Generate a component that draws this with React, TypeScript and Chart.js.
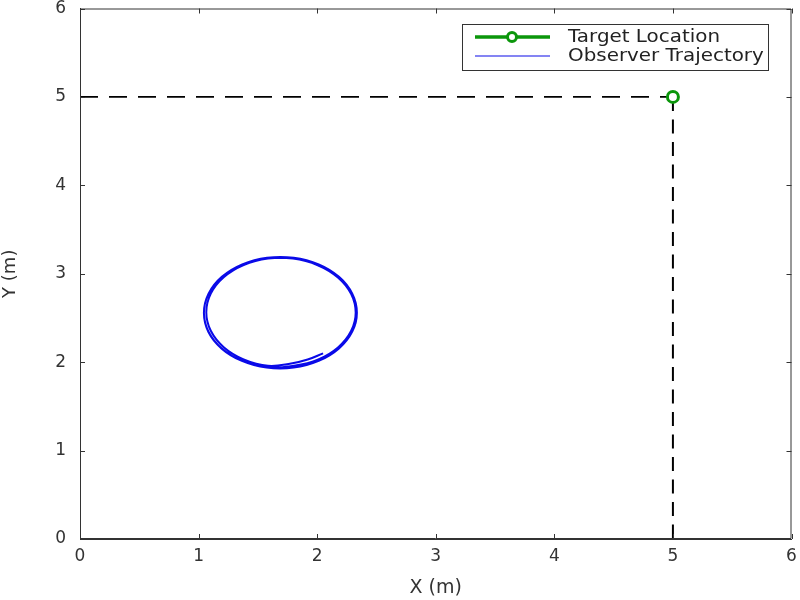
import React, { useEffect, useRef } from "react";
import { Chart, registerables } from "chart.js";

Chart.register(...registerables);

// ---- data ----
const tickValues = [0, 1, 2, 3, 4, 5, 6];
const targetX = [5];
const targetY = [5];
const hGuideX = [0, 5];
const hGuideY = [5, 5];
const vGuideX = [5, 5];
const vGuideY = [5, 0];
const trajX = [
  2.05, 1.92, 1.78,
  1.585, 1.38, 1.212, 1.103, 1.065, 1.103, 1.212, 1.38, 1.585, 1.805, 2.01, 2.178, 2.287, 2.325, 2.287, 2.178, 2.01, 1.805,
  1.578, 1.368, 1.196, 1.084, 1.045, 1.084, 1.196, 1.368, 1.578, 1.802, 2.013, 2.184, 2.296, 2.335, 2.296, 2.184, 2.013, 1.802,
  1.574, 1.365, 1.195, 1.083, 1.045, 1.083, 1.195, 1.365, 1.574, 1.796, 2.005, 2.175, 2.287, 2.325, 2.287, 2.175, 2.005, 1.796,
  1.6,
];
const trajY = [
  2.1, 2.03, 1.985,
  1.959, 2.032, 2.17, 2.355, 2.565, 2.775, 2.96, 3.098, 3.171, 3.171, 3.098, 2.96, 2.775, 2.565, 2.355, 2.17, 2.032, 1.959,
  1.939, 2.014, 2.155, 2.345, 2.56, 2.775, 2.965, 3.106, 3.181, 3.181, 3.106, 2.965, 2.775, 2.56, 2.345, 2.155, 2.014, 1.939,
  1.939, 2.014, 2.153, 2.341, 2.555, 2.769, 2.957, 3.096, 3.171, 3.171, 3.096, 2.957, 2.769, 2.555, 2.341, 2.153, 2.014, 1.939,
  1.935,
];
const legendLabels = ["Target Location", "Observer Trajectory"];

const GREEN = "#0b960b";
const BLUE = "#0a0ae8";
const AXIS = "#333333";
const FONT = "'DejaVu Sans', 'Liberation Sans', Arial, sans-serif";

const zip = (xs: number[], ys: number[]) => xs.map((x, i) => ({ x, y: ys[i] }));

const boxPlugin = {
  id: "matlabBox",
  afterDraw(chart: any) {
    const { ctx, chartArea } = chart;
    const { left, right, top, bottom } = chartArea;
    const xs = chart.scales.x;
    const ys = chart.scales.y;
    ctx.save();
    ctx.strokeStyle = AXIS;
    ctx.lineWidth = 1;
    ctx.beginPath();
    ctx.rect(left + 0.5, top + 0.5, right - left - 1, bottom - top - 1);
    ctx.stroke();
    const tl = 5;
    ctx.beginPath();
    tickValues.forEach((v) => {
      const px = Math.round(xs.getPixelForValue(v)) + 0.5;
      ctx.moveTo(px, bottom);
      ctx.lineTo(px, bottom - tl);
      ctx.moveTo(px, top);
      ctx.lineTo(px, top + tl);
      const py = Math.round(ys.getPixelForValue(v)) + 0.5;
      ctx.moveTo(left, py);
      ctx.lineTo(left + tl, py);
      ctx.moveTo(right, py);
      ctx.lineTo(right - tl, py);
    });
    ctx.stroke();

    // legend
    const bx = 462, by = 24, bw = 306, bh = 46;
    ctx.fillStyle = "#ffffff";
    ctx.fillRect(bx, by, bw, bh);
    ctx.strokeStyle = AXIS;
    ctx.lineWidth = 1;
    ctx.strokeRect(bx + 0.5, by + 0.5, bw, bh);
    const rows = [37, 56];
    // target entry
    ctx.strokeStyle = GREEN;
    ctx.lineWidth = 3.5;
    ctx.beginPath();
    ctx.moveTo(475, rows[0]);
    ctx.lineTo(550, rows[0]);
    ctx.stroke();
    ctx.fillStyle = "#ffffff";
    ctx.lineWidth = 3;
    ctx.beginPath();
    ctx.arc(512, rows[0], 4.5, 0, Math.PI * 2);
    ctx.fill();
    ctx.stroke();
    // trajectory entry
    ctx.strokeStyle = BLUE;
    ctx.lineWidth = 1.2;
    ctx.beginPath();
    ctx.moveTo(475, rows[1]);
    ctx.lineTo(550, rows[1]);
    ctx.stroke();
    // text
    ctx.font = `17px ${FONT}`;
    ctx.fillStyle = "#222222";
    ctx.textBaseline = "middle";
    ctx.textAlign = "left";
    const w0 = ctx.measureText(legendLabels[0]).width;
    const sx = 152 / w0;
    legendLabels.forEach((t, i) => {
      ctx.save();
      ctx.translate(568, rows[i]);
      ctx.scale(sx, 1);
      ctx.fillText(t, 0, 1);
      ctx.restore();
    });
    ctx.restore();
  },
};

export default function App() {
  const ref = useRef<HTMLCanvasElement>(null);
  useEffect(() => {
    document.body.style.margin = "0";
    const canvas = ref.current;
    if (!canvas) return;
    const chart = new Chart(canvas, {
      type: "scatter",
      data: {
        datasets: [
          {
            label: "Target Location",
            data: zip(targetX, targetY),
            showLine: false,
            pointRadius: 5.5,
            pointBorderWidth: 3,
            pointBorderColor: GREEN,
            pointBackgroundColor: "#ffffff",
            borderColor: GREEN,
          },
          {
            label: "guideH",
            data: zip(hGuideX, hGuideY),
            showLine: true,
            borderColor: "#000000",
            borderWidth: 1.7,
            borderDash: [18, 11],
            pointRadius: 0,
            tension: 0,
          },
          {
            label: "guideV",
            data: zip(vGuideX, vGuideY),
            showLine: true,
            borderColor: "#000000",
            borderWidth: 2,
            borderDash: [14, 8.5],
            pointRadius: 0,
            tension: 0,
          },
          {
            label: "Observer Trajectory",
            data: zip(trajX, trajY),
            showLine: true,
            borderColor: BLUE,
            borderWidth: 2,
            pointRadius: 0,
            tension: 0.4,
          },
        ],
      },
      options: {
        animation: false,
        responsive: true,
        maintainAspectRatio: false,
        layout: { padding: { left: 0, top: 6, right: 8, bottom: 0 } },
        plugins: {
          legend: { display: false },
          tooltip: { enabled: false },
        },
        scales: {
          x: {
            type: "linear",
            min: 0,
            max: 6,
            grid: { display: false, drawTicks: false },
            border: { display: true, color: AXIS, width: 1 },
            ticks: {
              stepSize: 1,
              padding: 7,
              color: AXIS,
              font: { family: FONT, size: 17 },
            },
            title: {
              display: true,
              text: "X (m)",
              color: AXIS,
              font: { family: FONT, size: 19 },
              padding: { top: 0, bottom: 1 },
            },
            afterFit(scale: any) {
              scale.height = 61;
              scale.paddingLeft = 0;
              scale.paddingRight = 0;
            },
          },
          y: {
            type: "linear",
            min: 0,
            max: 6,
            grid: { display: false, drawTicks: false },
            border: { display: true, color: AXIS, width: 1 },
            ticks: {
              stepSize: 1,
              padding: 14,
              color: AXIS,
              font: { family: FONT, size: 17 },
            },
            title: {
              display: true,
              text: "Y (m)",
              color: AXIS,
              font: { family: FONT, size: 18 },
              padding: { top: 0, bottom: 0 },
            },
            afterFit(scale: any) {
              scale.width = 80;
              scale.paddingTop = 0;
              scale.paddingBottom = 0;
            },
          },
        },
      },
      plugins: [boxPlugin],
    });
    return () => chart.destroy();
  }, []);
  return (
    <div style={{ position: "relative", width: 800, height: 600 }}>
      <canvas ref={ref} />
    </div>
  );
}
